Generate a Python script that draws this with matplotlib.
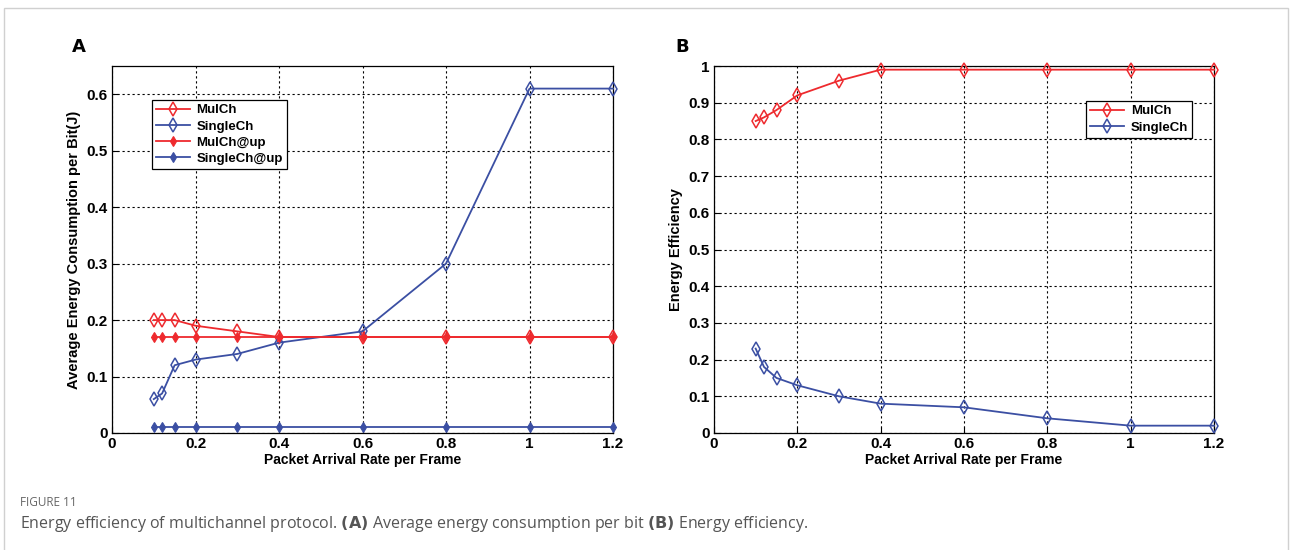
"""
Figure 11 - energy efficiency of multichannel protocol
"""

import matplotlib
matplotlib.use("Agg")
import matplotlib.pyplot as plt
from matplotlib.patches import Rectangle


# ======================================================
# DATA
# ======================================================

rate = [0.1, 0.12, 0.15, 0.2, 0.3, 0.4, 0.6, 0.8, 1.0, 1.2]

# panel A - average energy consumption per bit (J)
mulch_energy = [0.20, 0.20, 0.20, 0.19, 0.18, 0.17, 0.17, 0.17, 0.17, 0.17]
single_energy = [0.06, 0.07, 0.12, 0.13, 0.14, 0.16, 0.18, 0.30, 0.61, 0.61]
mulch_up = [0.17, 0.17, 0.17, 0.17, 0.17, 0.17, 0.17, 0.17, 0.17, 0.17]
single_up = [0.01, 0.01, 0.01, 0.01, 0.01, 0.01, 0.01, 0.01, 0.01, 0.01]

# panel B - energy efficiency
mulch_eff = [0.85, 0.86, 0.88, 0.92, 0.96, 0.99, 0.99, 0.99, 0.99, 0.99]
single_eff = [0.23, 0.18, 0.15, 0.13, 0.10, 0.08, 0.07, 0.04, 0.02, 0.02]

x_ticks = [0, 0.2, 0.4, 0.6, 0.8, 1, 1.2]
x_ticklabels = ["0", "0.2", "0.4", "0.6", "0.8", "1", "1.2"]
yA_ticks = [0, 0.1, 0.2, 0.3, 0.4, 0.5, 0.6]
yA_ticklabels = ["0", "0.1", "0.2", "0.3", "0.4", "0.5", "0.6"]
yB_ticks = [0, 0.1, 0.2, 0.3, 0.4, 0.5, 0.6, 0.7, 0.8, 0.9, 1]
yB_ticklabels = ["0", "0.1", "0.2", "0.3", "0.4", "0.5", "0.6", "0.7", "0.8", "0.9", "1"]

RED = "#ee2a2e"
BLUE = "#3b4fa3"
NARROW = ["Liberation Sans Narrow", "Liberation Sans", "DejaVu Sans"]


# ======================================================
# HELPERS
# ======================================================

def style_axes(ax, yticks, yticklabels, ylim, ylabel):
    ax.set_xlim(0, 1.2)
    ax.set_ylim(*ylim)
    ax.set_xticks(x_ticks)
    ax.set_xticklabels(x_ticklabels, family=NARROW, fontweight="bold", fontsize=11)
    ax.set_yticks(yticks)
    ax.set_yticklabels(yticklabels, family=NARROW, fontweight="bold", fontsize=11)
    ax.tick_params(direction="in", length=4, width=0.8, pad=3)
    ax.grid(True, color="black", linestyle=(0, (2, 2.5)), linewidth=0.8)
    for s in ax.spines.values():
        s.set_linewidth(0.9)
    ax.set_xlabel("Packet Arrival Rate per Frame", family=NARROW,
                  fontweight="bold", fontsize=10, labelpad=1)
    ax.set_ylabel(ylabel, family=NARROW, fontweight="bold", fontsize=10.5, labelpad=4)


def legend(ax, **kw):
    leg = ax.legend(prop={"family": NARROW, "weight": "bold", "size": 9.5},
                    fancybox=False, edgecolor="black", framealpha=1,
                    handlelength=2.6, handletextpad=0.5, borderpad=0.3,
                    labelspacing=0.3, **kw)
    leg.get_frame().set_linewidth(0.9)
    return leg


# ======================================================
# FIGURE
# ======================================================

fig = plt.figure(figsize=(12.9, 5.5), dpi=100)

# light frame round the figure block
fig.add_artist(Rectangle((4 / 1290, -0.1), 1284 / 1290, 1.085,
                         transform=fig.transFigure, fill=False,
                         edgecolor="#d0d0d0", linewidth=1.0))

axA = fig.add_axes([112 / 1290, 117 / 550, 501 / 1290, 367 / 550])
axB = fig.add_axes([714 / 1290, 117 / 550, 500 / 1290, 367 / 550])

open_d = dict(marker="d", markersize=7.5, markerfacecolor="none",
              markeredgewidth=1.1, clip_on=False, zorder=3)
solid_d = dict(marker="d", markersize=5, markeredgewidth=0.8,
               clip_on=False, zorder=3)

# panel A
axA.plot(rate, mulch_energy, color=RED, lw=1.3, label="MulCh", **open_d)
axA.plot(rate, single_energy, color=BLUE, lw=1.3, label="SingleCh", **open_d)
axA.plot(rate, mulch_up, color=RED, lw=1.3, label="MulCh@up", **solid_d)
axA.plot(rate, single_up, color=BLUE, lw=1.3, label="SingleCh@up", **solid_d)
style_axes(axA, yA_ticks, yA_ticklabels, (0, 0.65),
           "Average Energy Consumption per Bit(J)")
legend(axA, loc="upper left", bbox_to_anchor=(0.066, 0.925))

# panel B
axB.plot(rate, mulch_eff, color=RED, lw=1.3, label="MulCh", **open_d)
axB.plot(rate, single_eff, color=BLUE, lw=1.3, label="SingleCh", **open_d)
style_axes(axB, yB_ticks, yB_ticklabels, (0, 1), "Energy Efficiency")
legend(axB, loc="upper right", bbox_to_anchor=(0.97, 0.922))

# panel letters
fig.text(72 / 1290, 1 - 47 / 550, "A", fontsize=13, fontweight="bold", va="center")
fig.text(675 / 1290, 1 - 47 / 550, "B", fontsize=13, fontweight="bold", va="center")

# caption
fig.text(20 / 1290, 1 - 503 / 550, "FIGURE 11", family="Open Sans",
         fontsize=8.5, color="#666666", va="center")
fig.text(20 / 1290, 1 - 524 / 550,
         "Energy efficiency of multichannel protocol. $\\bf{(A)}$ Average energy "
         "consumption per bit $\\bf{(B)}$ Energy efficiency.",
         family="Open Sans", fontsize=11.5, color="#555555", va="center")

plt.savefig("out.png", dpi=100)
plt.close()
